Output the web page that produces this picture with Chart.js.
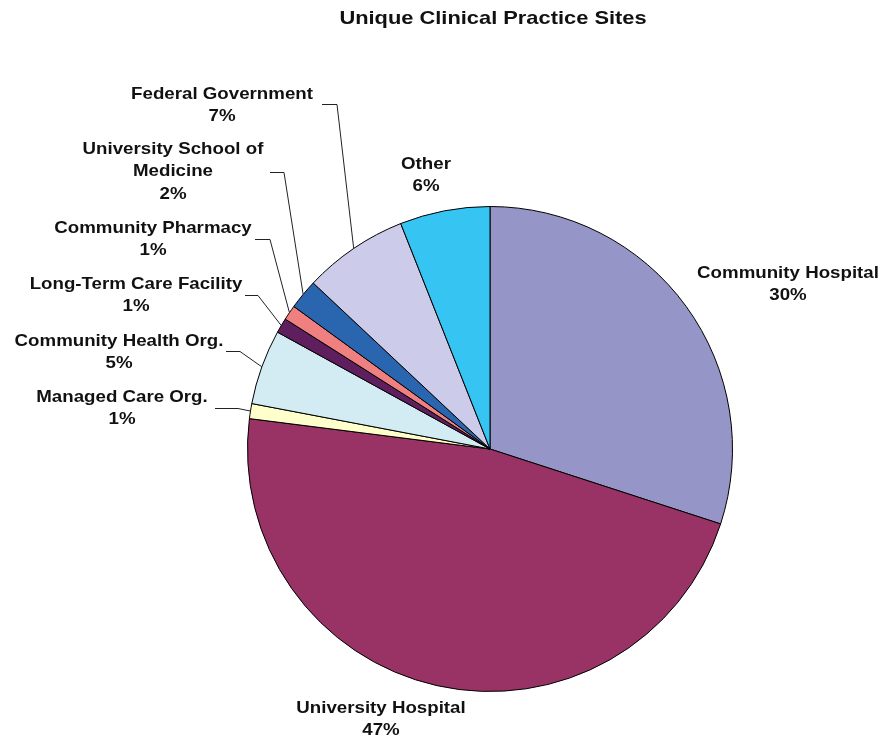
<!DOCTYPE html>
<html>
<head>
<meta charset="utf-8">
<title>Unique Clinical Practice Sites</title>
<script src="https://cdn.jsdelivr.net/npm/chart.js@4.4.1/dist/chart.umd.min.js"></script>
<style>
  html, body { margin: 0; padding: 0; background: #fff; }
  #wrap { width: 881px; height: 738px; }
</style>
</head>
<body>
<div id="wrap"><canvas id="siteChart" width="881" height="738"></canvas></div>
<script>
// data
const categories = [
  'Community Hospital',
  'University Hospital',
  'Managed Care Org.',
  'Community Health Org.',
  'Long-Term Care Facility',
  'Community Pharmacy',
  'University School of Medicine',
  'Federal Government',
  'Other'
];
const percentValues = [30, 47, 1, 5, 1, 1, 2, 7, 6];
const sliceColors = ['#9595c8', '#993366', '#ffffcc', '#d3ecf4', '#5f1f5f', '#f08080', '#2a66b0', '#ccccea', '#36c5f2'];

// label layout: text lines, text centre x, first line middle y, optional leader elbow
const labelLayout = [
  { lines: ['Community Hospital'], x: 788, y: 273 },
  { lines: ['University Hospital'], x: 381, y: 708 },
  { lines: ['Managed Care Org.'], x: 122, y: 397, elbow: [238, 408], end: 215 },
  { lines: ['Community Health Org.'], x: 119, y: 341, elbow: [240, 351], end: 226 },
  { lines: ['Long-Term Care Facility'], x: 136, y: 284, elbow: [258, 295], end: 245 },
  { lines: ['Community Pharmacy'], x: 153, y: 228, elbow: [270, 239], end: 255 },
  { lines: ['University School of', 'Medicine'], x: 173, y: 149, elbow: [284, 172], end: 270 },
  { lines: ['Federal Government'], x: 222, y: 94, elbow: [337, 104], end: 322 },
  { lines: ['Other'], x: 426, y: 164 }
];

const LABEL_FONT = 'bold 17px "Liberation Sans", Arial, sans-serif';
const LINE_H = 22.5;

// wide text like the original export
function wideText(ctx, text, x, y, sx) {
  ctx.save();
  ctx.translate(x, y);
  ctx.scale(sx, 1);
  ctx.fillText(text, 0, 0);
  ctx.restore();
}

const sliceLabels = {
  id: 'sliceLabels',
  afterDraw(chart) {
    const ctx = chart.ctx;
    const meta = chart.getDatasetMeta(0);
    const total = percentValues.reduce((a, b) => a + b, 0);
    ctx.save();

    // title
    ctx.fillStyle = '#111';
    ctx.font = 'bold 19px "Liberation Sans", Arial, sans-serif';
    ctx.textAlign = 'center';
    ctx.textBaseline = 'middle';
    wideText(ctx, 'Unique Clinical Practice Sites', 493, 19, 1.15);

    ctx.font = LABEL_FONT;
    meta.data.forEach((arc, i) => {
      const lay = labelLayout[i];
      const p = arc.getProps(['x', 'y', 'startAngle', 'endAngle', 'outerRadius'], true);
      const mid = (p.startAngle + p.endAngle) / 2;
      const ax = p.x + Math.cos(mid) * p.outerRadius;
      const ay = p.y + Math.sin(mid) * p.outerRadius;

      if (lay.elbow) {
        ctx.strokeStyle = '#222';
        ctx.lineWidth = 1;
        ctx.beginPath();
        ctx.moveTo(lay.end, lay.elbow[1] + 0.5);
        ctx.lineTo(lay.elbow[0], lay.elbow[1] + 0.5);
        ctx.lineTo(ax, ay);
        ctx.stroke();
      }

      const pct = Math.round(percentValues[i] / total * 100) + '%';
      const lines = lay.lines.concat([pct]);
      ctx.fillStyle = '#111';
      lines.forEach((t, k) => {
        wideText(ctx, t, lay.x, lay.y + k * LINE_H, 1.1);
      });
    });
    ctx.restore();
  }
};

new Chart(document.getElementById('siteChart'), {
  type: 'pie',
  data: {
    labels: categories,
    datasets: [{
      data: percentValues,
      backgroundColor: sliceColors,
      borderColor: '#000',
      borderWidth: 1
    }]
  },
  options: {
    responsive: false,
    animation: false,
    layout: {
      padding: { left: 247, right: 148, top: 206, bottom: 46 }
    },
    plugins: {
      legend: { display: false },
      tooltip: { enabled: false },
      title: { display: false }
    }
  },
  plugins: [sliceLabels]
});
</script>
</body>
</html>
